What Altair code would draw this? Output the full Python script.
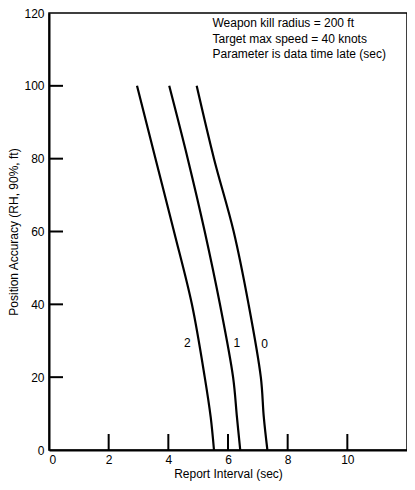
import altair as alt
import pandas as pd

# y positions where curves were read (ft)
y_levels = [0, 9, 20, 40, 60, 80, 100]
# x positions (report interval, sec) for each data-time-late parameter
x_late0 = [7.32, 7.20, 7.10, 6.69, 6.19, 5.53, 4.95]
x_late1 = [6.41, 6.30, 6.17, 5.73, 5.22, 4.65, 4.03]
x_late2 = [5.53, 5.42, 5.22, 4.79, 4.19, 3.57, 2.95]

curve_names = ["0", "1", "2"]
label_x = [7.23, 6.30, 4.64]
label_y = [29, 29.3, 29.3]

x_ticks = [0, 2, 4, 6, 8, 10]
y_ticks = [0, 20, 40, 60, 80, 100, 120]
x_inner_ticks = [2, 4, 6, 8, 10]
y_inner_ticks = [20, 40, 60, 80, 100]

note_lines = ["Weapon kill radius = 200 ft",
              "Target max speed = 40 knots",
              "Parameter is data time late (sec)"]

FONT = "Liberation Sans"
W, H = 358, 437

rows = []
for name, xs in zip(curve_names, [x_late0, x_late1, x_late2]):
    for i, (xv, yv) in enumerate(zip(xs, y_levels)):
        rows.append({"late": name, "x": xv, "y": yv, "i": i})
df = pd.DataFrame(rows)

xs = alt.Scale(domain=[0, 12], nice=False)
ys = alt.Scale(domain=[0, 120], nice=False)

x_enc = alt.X("x:Q", scale=xs, title="Report Interval (sec)",
              axis=alt.Axis(values=x_ticks, labelPadding=4, titlePadding=3))
y_enc = alt.Y("y:Q", scale=ys, title="Position Accuracy (RH, 90%, ft)",
              axis=alt.Axis(values=y_ticks, labelPadding=5, titlePadding=3))

lines = alt.Chart(df).mark_line(color="black", strokeWidth=2.2, interpolate="catmull-rom").encode(
    x=x_enc, y=y_enc, detail="late:N", order="i:Q")

lab_df = pd.DataFrame({"x": label_x, "y": label_y, "t": curve_names})
labels = alt.Chart(lab_df).mark_text(font=FONT, fontSize=12, color="black").encode(
    x=alt.X("x:Q", scale=xs), y=alt.Y("y:Q", scale=ys), text="t:N")

note_df = pd.DataFrame({"x": [5.48], "y": [118.6], "t": ["\n".join(note_lines)]})
note = alt.Chart(note_df).mark_text(font=FONT, fontSize=12, color="black", align="left",
                                    baseline="top", lineBreak="\n", lineHeight=15.5).encode(
    x=alt.X("x:Q", scale=xs), y=alt.Y("y:Q", scale=ys), text="t:N")

xt_df = pd.DataFrame({"x": x_inner_ticks})
xticks = alt.Chart(xt_df).mark_rule(color="black", strokeWidth=2).encode(
    x=alt.X("x:Q", scale=xs), y=alt.value(H), y2=alt.value(H - 16))

yt_df = pd.DataFrame({"y": y_inner_ticks})
yticks = alt.Chart(yt_df).mark_rule(color="black", strokeWidth=2).encode(
    y=alt.Y("y:Q", scale=ys), x=alt.value(0), x2=alt.value(14))

chart = alt.layer(lines, labels, note, xticks, yticks).properties(
    width=W, height=H,
    autosize=alt.AutoSizeParams(type="none"),
    padding={"left": 41, "top": 5, "right": 0, "bottom": 32},
).configure_view(stroke="black", strokeWidth=1.5).configure_axis(
    grid=False, ticks=False, domainColor="black", domainWidth=2,
    labelFont=FONT, titleFont=FONT, labelFontSize=12, titleFontSize=12,
    labelColor="black", titleColor="black", titleFontWeight="normal",
)

chart.save("out.html", embed_options={"renderer": "svg", "actions": False})
